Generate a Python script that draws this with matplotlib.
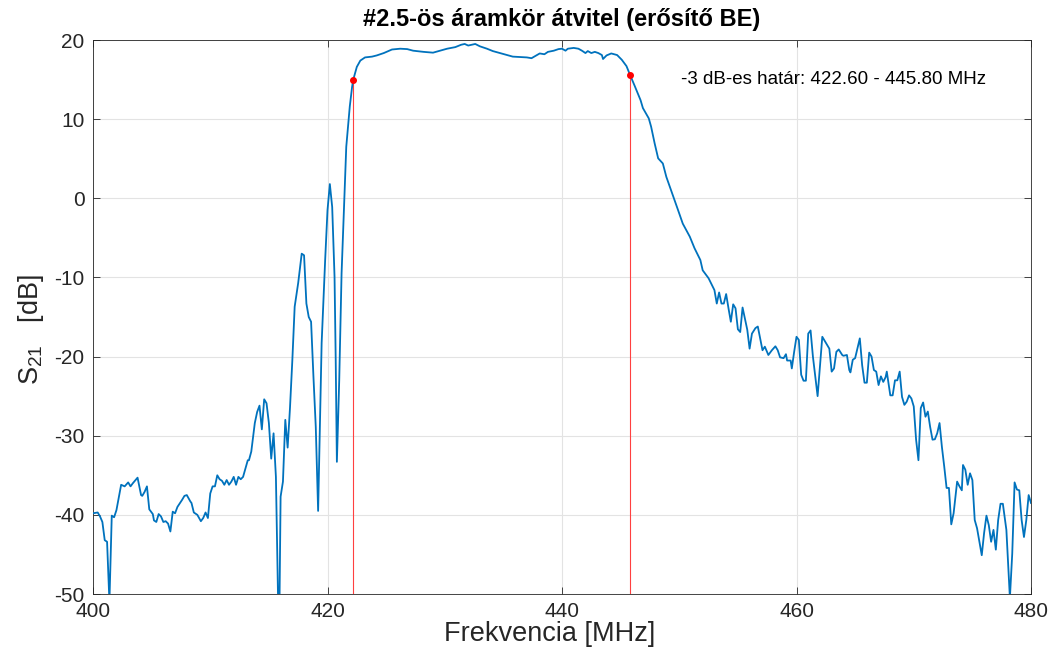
import matplotlib
matplotlib.use("Agg")
import matplotlib.pyplot as plt
import numpy as np

plt.rcParams['font.family'] = ['Liberation Sans', 'DejaVu Sans']
plt.rcParams['axes.unicode_minus'] = False
plt.rcParams['mathtext.fontset'] = 'custom'
plt.rcParams['mathtext.rm'] = 'Liberation Sans'
plt.rcParams['mathtext.it'] = 'Liberation Sans'

# ---- data ----
freq_low = [400.0, 400.4, 400.6, 400.8, 401.0, 401.2, 401.4, 401.6, 401.8, 402.0, 402.4, 402.7,
            403.0, 403.2, 403.4, 403.8, 404.1, 404.2, 404.4, 404.6, 404.8, 405.1, 405.2, 405.4,
            405.6, 405.8, 406.0, 406.2, 406.4, 406.6, 406.8, 407.0, 407.2, 407.6, 407.8, 408.0,
            408.3, 408.4, 408.6, 408.9, 409.2, 409.4, 409.6, 409.8, 410.0, 410.2, 410.4, 410.6,
            410.8, 411.0, 411.2, 411.4, 411.6, 411.8, 412.0, 412.2, 412.4, 412.6, 412.8, 413.2,
            413.3, 413.5, 413.8, 414.0, 414.2, 414.4, 414.6, 414.8, 415.0, 415.2, 415.4, 415.6,
            415.8, 415.9, 416.0, 416.2, 416.4, 416.6, 416.8, 417.0, 417.2, 417.5, 417.8, 418.0,
            418.2, 418.4, 418.6, 418.8, 419.0, 419.2, 419.5, 419.8, 420.0, 420.2, 420.4, 420.6,
            420.7, 420.8, 421.0, 421.2, 421.4, 421.6, 421.9, 422.1, 422.2, 422.5, 422.8]
s21_low = [-39.8, -39.7, -40.2, -40.9, -43.2, -43.4, -51.0, -40.1, -40.3, -39.4, -36.2, -36.4,
           -35.9, -36.4, -36.0, -35.3, -37.5, -37.6, -37.1, -36.4, -39.3, -39.9, -40.7, -40.9,
           -39.9, -40.2, -40.9, -40.8, -41.1, -42.1, -39.6, -39.8, -39.0, -38.1, -37.6, -37.5,
           -38.3, -38.5, -39.7, -40.0, -40.8, -40.4, -39.7, -40.4, -37.3, -36.4, -36.4, -35.0,
           -35.5, -35.7, -36.2, -35.6, -36.2, -35.8, -35.2, -36.2, -35.2, -35.5, -35.2, -33.1,
           -33.1, -32.0, -28.4, -27.0, -26.2, -29.2, -25.4, -25.9, -28.4, -32.9, -29.7, -35.2,
           -52.0, -52.0, -37.7, -35.8, -28.0, -31.5, -26.5, -20.5, -13.7, -10.7, -7.0, -7.2,
           -13.3, -15.0, -15.6, -22.5, -28.9, -39.5, -18.3, -7.8, -1.5, 1.8, -1.1, -9.9,
           -20.4, -33.3, -23.0, -9.5, -1.5, 6.5, 11.6, 14.1, 15.0, 16.6, 17.4]

freq_pass = [423.2, 423.8, 424.2, 424.8, 425.5, 426.2, 426.8, 427.3, 428.2, 429.0, 429.6, 430.2,
             430.9, 431.4, 431.7, 432.0, 432.3, 432.6, 433.0, 433.6, 434.1, 434.7, 435.3, 435.8,
             436.4, 437.0, 437.4, 437.8, 438.1, 438.5, 438.8, 439.3, 439.7, 440.0, 440.3, 440.5,
             441.0, 441.4, 441.7, 442.0, 442.2, 442.5, 442.8, 443.1, 443.4, 443.5, 443.8, 444.2,
             444.7, 445.1, 445.5, 445.8]
s21_pass = [17.8, 17.9, 18.05, 18.35, 18.8, 18.9, 18.85, 18.65, 18.5, 18.4, 18.65, 18.9,
            19.1, 19.4, 19.5, 19.3, 19.4, 19.5, 19.2, 18.9, 18.6, 18.35, 18.1, 17.9,
            17.85, 17.8, 17.7, 18.05, 18.3, 18.2, 18.5, 18.65, 18.85, 18.9, 18.65, 18.9,
            19.0, 18.9, 18.65, 18.35, 18.6, 18.35, 18.5, 18.35, 18.1, 17.6, 18.05, 18.3,
            18.1, 17.5, 16.7, 15.6]

freq_high = [446.2, 446.7, 446.9, 447.4, 447.6, 447.9, 448.2, 448.6, 448.9, 449.5, 449.9, 450.3,
             450.9, 451.3, 451.8, 452.0, 452.5, 452.8, 453.0, 453.2, 453.4, 453.6, 453.8, 454.0,
             454.2, 454.4, 454.6, 454.8, 455.0, 455.2, 455.4, 455.6, 455.8, 456.0, 456.2, 456.5,
             456.7, 456.9, 457.1, 457.3, 457.6, 457.9, 458.2, 458.4, 458.6, 458.9, 459.1, 459.2,
             459.5, 459.6, 459.8, 460.0, 460.2, 460.4, 460.6, 460.8, 461.0, 461.2, 461.4, 461.8,
             462.0, 462.2, 462.4, 462.6, 462.8, 463.0, 463.2, 463.4, 463.6, 463.9, 464.0, 464.3,
             464.5, 464.6, 464.8, 465.0, 465.4, 465.6, 465.8, 466.0, 466.2, 466.4, 466.6, 466.8,
             467.0, 467.2, 467.4, 467.6, 467.7, 468.0, 468.2, 468.4, 468.6, 468.8, 469.0, 469.2,
             469.4, 469.6, 469.8, 470.0, 470.2, 470.4, 470.6, 470.8, 471.0, 471.2, 471.4, 471.6,
             471.8, 472.0, 472.2, 472.4, 472.6, 472.8, 473.0, 473.2, 473.4, 473.7, 473.9, 474.1,
             474.2, 474.4, 474.6, 474.8, 475.0, 475.2, 475.4, 475.8, 476.0, 476.2, 476.4, 476.6,
             476.8, 477.0, 477.2, 477.4, 477.6, 477.9, 478.2, 478.4, 478.6, 478.8, 479.0, 479.2,
             479.4, 479.6, 479.8, 480.0]
s21_high = [14.2, 12.4, 11.4, 10.1, 9.05, 6.95, 5.05, 4.4, 2.7, 0.2, -1.5, -3.2,
            -4.85, -6.3, -7.8, -9.1, -10.1, -11.0, -11.6, -13.3, -11.9, -13.3, -13.3, -12.1,
            -13.9, -15.6, -13.4, -13.9, -16.55, -16.9, -13.8, -15.2, -16.6, -19.0, -17.1, -16.4,
            -16.2, -17.7, -19.2, -18.75, -19.8, -19.2, -18.7, -19.2, -20.1, -20.2, -19.7, -20.5,
            -20.5, -21.5, -19.4, -17.5, -17.9, -22.3, -23.05, -23.05, -17.1, -16.7, -20.0, -25.0,
            -21.3, -17.5, -18.0, -18.5, -19.0, -21.9, -21.5, -19.4, -19.1, -19.8, -19.9, -19.8,
            -21.7, -22.0, -20.4, -20.2, -17.7, -21.1, -23.3, -23.3, -19.5, -20.0, -21.7, -21.9,
            -23.6, -22.5, -23.2, -22.6, -21.9, -24.9, -24.9, -23.0, -23.0, -21.9, -25.1, -26.1,
            -25.7, -24.9, -25.3, -26.3, -30.5, -33.1, -26.5, -25.8, -27.6, -26.95, -28.9, -30.5,
            -30.45, -29.7, -28.4, -31.4, -33.9, -36.6, -36.6, -41.2, -39.8, -35.8, -36.4, -36.9,
            -33.7, -34.3, -36.2, -34.75, -35.6, -40.65, -41.7, -45.1, -42.3, -40.1, -41.3, -43.4,
            -41.9, -44.4, -40.65, -38.6, -38.6, -41.9, -50.5, -44.9, -35.9, -36.8, -36.9, -40.65,
            -42.8, -40.65, -37.5, -38.5]

edge_freq = [422.2, 445.8]
edge_s21 = [15.0, 15.6]
label_text = "-3 dB-es határ: 422.60 - 445.80 MHz"
x_ticks = [400, 420, 440, 460, 480]
y_ticks = [-50, -40, -30, -20, -10, 0, 10, 20]

freq = freq_low + freq_pass + freq_high
s21 = s21_low + s21_pass + s21_high

# ---- figure ----
fig = plt.figure(figsize=(10.51, 6.53), dpi=100)
ax = fig.add_axes([93/1051, 1 - 594/653, (1031 - 93)/1051, (594 - 40)/653])

tc = '#262626'
ax.set_xlim(400, 480)
ax.set_ylim(-50, 20)
ax.set_xticks(x_ticks)
ax.set_yticks(y_ticks)
ax.grid(True, color='#e3e3e3', linewidth=0.8)
ax.set_axisbelow(True)

for xe, ye in zip(edge_freq, edge_s21):
    ax.plot([xe, xe], [-50, ye], color='#ff4040', linewidth=0.8, zorder=2)

ax.plot(freq, s21, color='#0072BD', linewidth=1.3, zorder=3)
ax.plot(edge_freq, edge_s21, 'o', color='red', markersize=4, zorder=4)

ax.text(450.15, 14.95, label_text, fontsize=13.5, color='black', va='center', ha='left')

ax.set_title("#2.5-ös áramkör átvitel (erősítő BE)", fontsize=17, fontweight='bold',
             color='black', pad=10)
ax.set_xlabel("Frekvencia [MHz]", fontsize=19.5, color=tc, labelpad=0)
ax.xaxis.set_label_coords(0.487, -0.048)
ax.set_ylabel(r"S$_{21}$   [dB]", fontsize=19.5, color=tc, labelpad=4)
ax.yaxis.set_label_coords(-0.050, 0.478)

ax.tick_params(direction='in', length=5, width=0.6, colors=tc, labelsize=15,
               top=True, right=True, pad=6)
for sp in ax.spines.values():
    sp.set_color(tc)
    sp.set_linewidth(0.6)

fig.savefig("out.png", dpi=100)
